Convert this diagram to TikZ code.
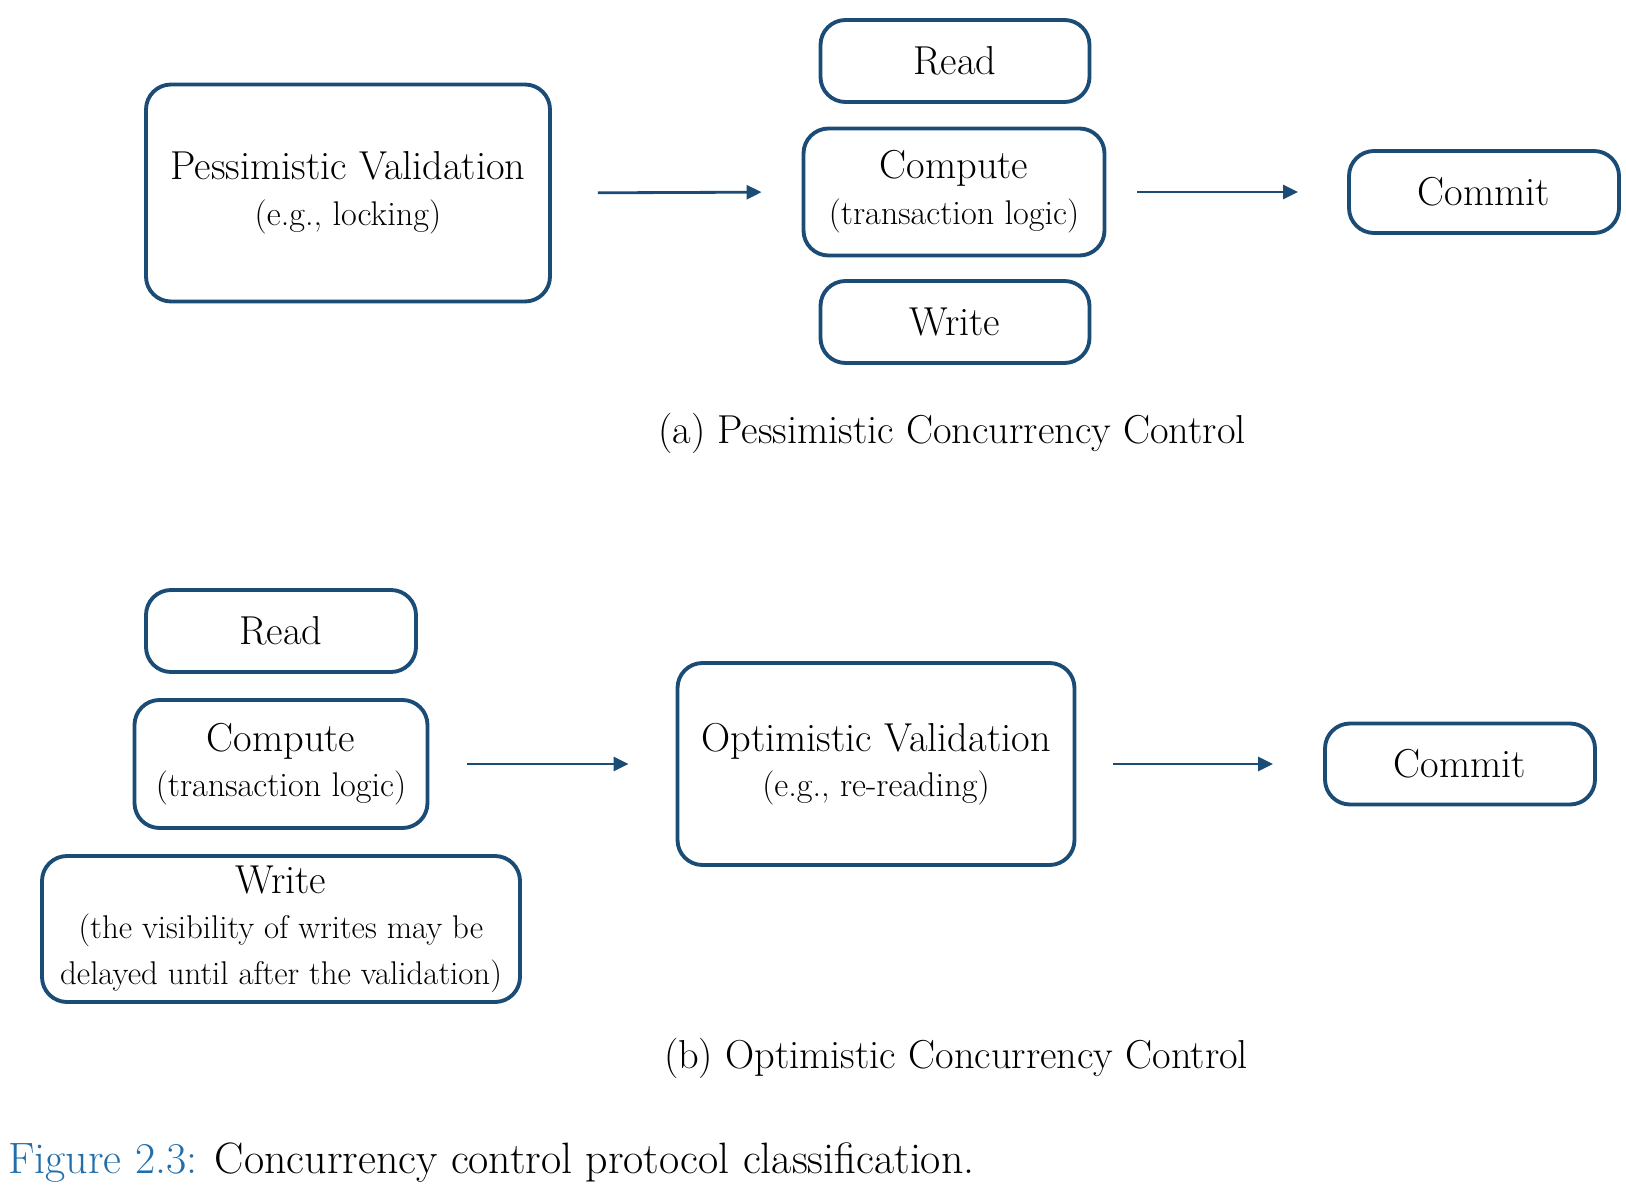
\documentclass[tikz,border=0pt]{standalone}
\usepackage{tikz}
\usetikzlibrary{arrows.meta}

\definecolor{inkblue}{RGB}{27,76,118}
\definecolor{figblue}{RGB}{33,110,170}

\tikzset{
  stagebox/.style={draw=inkblue, line width=2.2pt, rounded corners=0.5cm,
    fill=white, align=center, inner sep=1pt, font=\fontsize{23}{26}\selectfont},
  sz/.style 2 args={minimum width=#1*0.02cm, minimum height=#2*0.02cm},
  flow/.style={draw=inkblue, line width=1.6pt,
    -{Triangle[length=0.3cm,width=0.28cm]}},
  subtext/.style={font=\fontsize{23}{26}\selectfont}
}
\newcommand{\sub}[1]{{\fontsize{19.5}{26}\selectfont #1}}
\newcommand{\subsm}[1]{{\fontsize{18.7}{26}\selectfont #1}}

\begin{document}
\begin{tikzpicture}[x=0.02cm,y=-0.02cm]
	\useasboundingbox (0,0) rectangle (1626,1196);

	% (a) pessimistic
	\node[stagebox, sz={404}{217}] (pval) at (348,193) {Pessimistic Validation\\\sub{(e.g., locking)}};
	\node[stagebox, sz={269}{82}]  (readA) at (955,61) {Read};
	\node[stagebox, sz={301}{127}] (compA) at (954,192) {Compute\\\sub{(transaction logic)}};
	\node[stagebox, sz={269}{82}]  (writeA) at (955,322) {Write};
	\node[stagebox, sz={270}{82}]  (commA) at (1484,192) {Commit};

	\draw[flow, shorten <=46*0.02cm, shorten >=40*0.02cm] (pval.east) -- (compA.west);
	\draw[flow, shorten <=31*0.02cm, shorten >=49*0.02cm] (compA.east) -- (commA.west);

	\node[subtext] (capA) at (952,433) {(a) Pessimistic Concurrency Control};

	% (b) optimistic
	\node[stagebox, sz={270}{82}]  (readB) at (281,631) {Read};
	\node[stagebox, sz={293}{128}] (compB) at (281,764) {Compute\\\sub{(transaction logic)}};
	\node[stagebox, sz={478}{146}] (writeB) at (281,929) {Write\\\subsm{(the visibility of writes may be}\\\subsm{delayed until after the validation)}};
	\node[stagebox, sz={397}{202}] (oval) at (876,764) {Optimistic Validation\\\sub{(e.g., re-reading)}};
	\node[stagebox, sz={270}{81}]  (commB) at (1460,764) {Commit};

	\draw[flow, shorten <=38*0.02cm, shorten >=47*0.02cm] (compB.east) -- (oval.west);
	\draw[flow, shorten <=37*0.02cm, shorten >=50*0.02cm] (oval.east) -- (commB.west);

	\node[subtext] (capB) at (956,1058) {(b) Optimistic Concurrency Control};

	% figure caption
	\node[anchor=west, inner sep=0pt, font=\fontsize{25}{30}\selectfont] (figcap) at (8,1163)
	  {\textcolor{figblue}{Figure 2.3:} Concurrency control protocol classification.};
\end{tikzpicture}
\end{document}
